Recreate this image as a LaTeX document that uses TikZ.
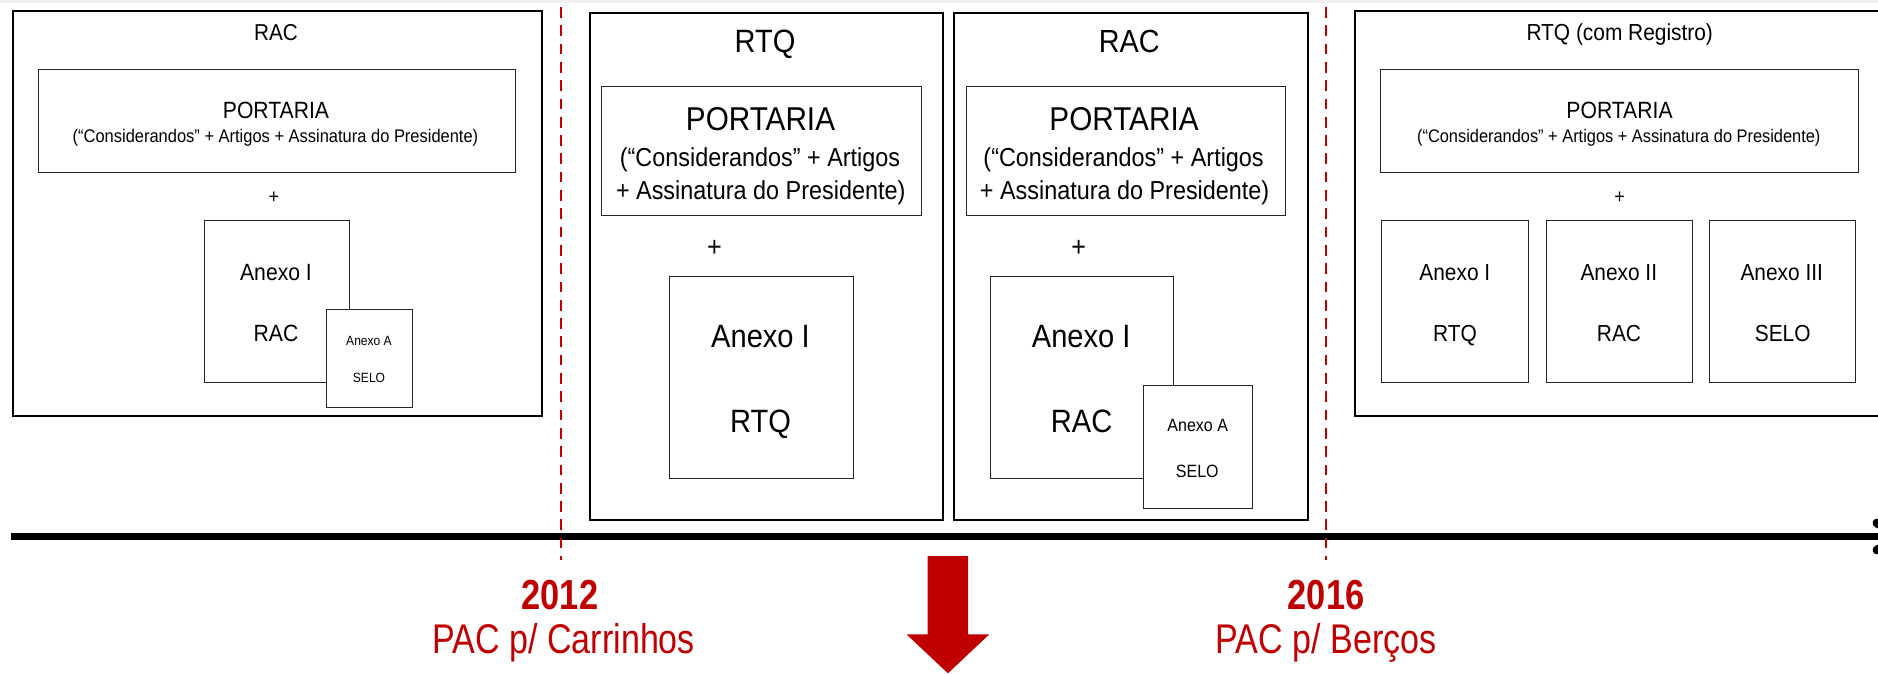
\documentclass[tikz,border=0pt]{standalone}
\usepackage{fontspec}
\setmainfont{Liberation Sans}
\newfontfamily\pf[FakeStretch=0.9]{Liberation Sans}
\newfontfamily\rf[FakeStretch=0.82]{Liberation Sans}
\usetikzlibrary{arrows.meta}
\definecolor{dred}{HTML}{C00000}
\newcommand{\fs}[1]{\pf\fontsize{#1}{#1}\selectfont}
\newcommand{\rfs}[1]{\rf\fontsize{#1}{#1}\selectfont}
\tikzset{
  panel/.style={draw=black, line width=2.2pt, fill=white, inner sep=0pt, anchor=north west},
  ibox/.style={draw=black!85, line width=1.3pt, fill=white, inner sep=0pt, anchor=north west},
  t/.style={inner sep=0pt, anchor=base},
  plus/.style={inner sep=0pt, anchor=center},
  reddash/.style={draw=dred, line width=2.6pt, dash pattern=on 10.7pt off 7.6pt},
  redtxt/.style={inner sep=0pt, anchor=base, text=dred},
}
\begin{document}
\begin{tikzpicture}[x=1pt,y=-1pt]
\useasboundingbox (0,0) rectangle (1878,673);
\fill[gray!12] (0,0) rectangle (1878,3);

% ---------------- left panel (RAC) ----------------
\node[panel, minimum width=529pt, minimum height=405pt] (p1) at (12,10) {};
\node[t, font=\fs{23}] (p1-title) at (276,40) {RAC};
\node[ibox, minimum width=477pt, minimum height=103pt] (p1-port) at (38,69) {};
\node[t, font=\fs{23.5}] (p1-portt) at (276,118.3) {PORTARIA};
\node[t, font=\fs{18.3}] (p1-sub) at (275.5,142.7) {(“Considerandos” + Artigos + Assinatura do Presidente)};
\node[plus, font=\fs{20}] (p1-plus) at (274,198) {+};
\node[ibox, minimum width=145pt, minimum height=162pt] (p1-anx) at (204,220) {};
\node[t, font=\fs{23.5}] (p1-anx1) at (276,280) {Anexo I};
\node[t, font=\fs{23.5}] (p1-anx2) at (276,341) {RAC};
\node[ibox, minimum width=86pt, minimum height=98pt] (p1-sel) at (326,309) {};
\node[t, font=\fs{13.4}] (p1-sel1) at (369,345.5) {Anexo A};
\node[t, font=\fs{13.4}] (p1-sel2) at (369,382) {SELO};

% ---------------- RTQ panel ----------------
\node[panel, minimum width=353pt, minimum height=507pt] (p2) at (589,12) {};
\node[t, font=\fs{32.3}] (p2-title) at (765,52) {RTQ};
\node[ibox, minimum width=320pt, minimum height=129pt] (p2-port) at (601,86) {};
\node[t, font=\fs{33}] (p2-portt) at (760.5,130) {PORTARIA};
\node[t, font=\fs{26}] (p2-sub1) at (760,166.3) {(“Considerandos” + Artigos};
\node[t, font=\fs{26}] (p2-sub2) at (760.7,199.5) {+ Assinatura do Presidente)};
\node[plus, font=\fs{28}] (p2-plus) at (714.5,248.5) {+};
\node[ibox, minimum width=184pt, minimum height=202pt] (p2-anx) at (669,276) {};
\node[t, font=\fs{32.3}] (p2-anx1) at (760.5,347.5) {Anexo I};
\node[t, font=\fs{32.3}] (p2-anx2) at (760.5,432.7) {RTQ};

% ---------------- RAC panel ----------------
\node[panel, minimum width=354pt, minimum height=507pt] (p3) at (953,12) {};
\node[t, font=\fs{32}] (p3-title) at (1129.3,52) {RAC};
\node[ibox, minimum width=319pt, minimum height=129pt] (p3-port) at (966,86) {};
\node[t, font=\fs{33}] (p3-portt) at (1124,130) {PORTARIA};
\node[t, font=\fs{26}] (p3-sub1) at (1123.6,166.3) {(“Considerandos” + Artigos};
\node[t, font=\fs{26}] (p3-sub2) at (1124.6,199.5) {+ Assinatura do Presidente)};
\node[plus, font=\fs{28}] (p3-plus) at (1078.8,248.5) {+};
\node[ibox, minimum width=183pt, minimum height=202pt] (p3-anx) at (990,276) {};
\node[t, font=\fs{32.3}] (p3-anx1) at (1081.2,347.5) {Anexo I};
\node[t, font=\fs{32.3}] (p3-anx2) at (1081.6,432.7) {RAC};
\node[ibox, minimum width=109pt, minimum height=123pt] (p3-sel) at (1143,385) {};
\node[t, font=\fs{17.8}] (p3-sel1) at (1197.7,431) {Anexo A};
\node[t, font=\fs{17.8}] (p3-sel2) at (1197.3,477.4) {SELO};

% ---------------- right panel ----------------
\node[panel, minimum width=560pt, minimum height=405pt] (p4) at (1354,10) {};
\node[t, font=\fs{23.2}] (p4-title) at (1619.7,40) {RTQ (com Registro)};
\node[ibox, minimum width=478pt, minimum height=103pt] (p4-port) at (1380,69) {};
\node[t, font=\fs{23.5}] (p4-portt) at (1619.5,118.3) {PORTARIA};
\node[t, font=\fs{18.2}] (p4-sub) at (1618.8,142.7) {(“Considerandos” + Artigos + Assinatura do Presidente)};
\node[plus, font=\fs{20}] (p4-plus) at (1619.7,198) {+};
\node[ibox, minimum width=147pt, minimum height=162pt] (p4-a) at (1381,220) {};
\node[ibox, minimum width=146pt, minimum height=162pt] (p4-b) at (1546,220) {};
\node[ibox, minimum width=146pt, minimum height=162pt] (p4-c) at (1709,220) {};
\node[t, font=\fs{23.2}] (p4-a1) at (1454.8,280) {Anexo I};
\node[t, font=\fs{23.2}] (p4-a2) at (1455,341.7) {RTQ};
\node[t, font=\fs{23.2}] (p4-b1) at (1618.8,280) {Anexo II};
\node[t, font=\fs{23.2}] (p4-b2) at (1619,341.7) {RAC};
\node[t, font=\fs{23.2}] (p4-c1) at (1781.7,280) {Anexo III};
\node[t, font=\fs{23.2}] (p4-c2) at (1782.7,341.7) {SELO};

% ---------------- timeline (open arrowhead, mostly beyond the right edge) ----------------
\coordinate (tl-start) at (11,536.5);
\coordinate (tl-end) at (1878,536.5);
\coordinate (tl-tip) at (1905,536.5);
\coordinate (tl-barb1) at (1877,523);
\coordinate (tl-barb2) at (1877,550);
\draw[line width=7.5pt] (tl-start) -- (tl-end);
\draw[line width=9pt, line cap=round, line join=round] (tl-barb1) -- (tl-tip) -- (tl-barb2);

% ---------------- red dashed year markers ----------------
\coordinate (d1-top) at (561,7);
\coordinate (d1-bot) at (561,560);
\coordinate (d2-top) at (1326,7);
\coordinate (d2-bot) at (1326,560);
\draw[reddash] (d1-top) -- (d1-bot);
\draw[reddash] (d2-top) -- (d2-bot);

% ---------------- labels ----------------
\node[redtxt, font=\rfs{42}\bfseries] (y2012) at (560,609) {2012};
\node[redtxt, font=\rfs{41.5}] (l2012) at (563.8,653) {PAC p/ Carrinhos};
\node[redtxt, font=\rfs{42}\bfseries] (y2016) at (1326,609) {2016};
\node[redtxt, font=\rfs{41.5}] (l2016) at (1326,653) {PAC p/ Berços};

% ---------------- big red arrow ----------------
\fill[dred] (927.5,556) -- (968.2,556) -- (968.2,634.3) -- (989.3,634.3)
  -- (947.9,673.3) -- (906.5,634.3) -- (927.5,634.3) -- cycle;
\end{tikzpicture}
\end{document}
